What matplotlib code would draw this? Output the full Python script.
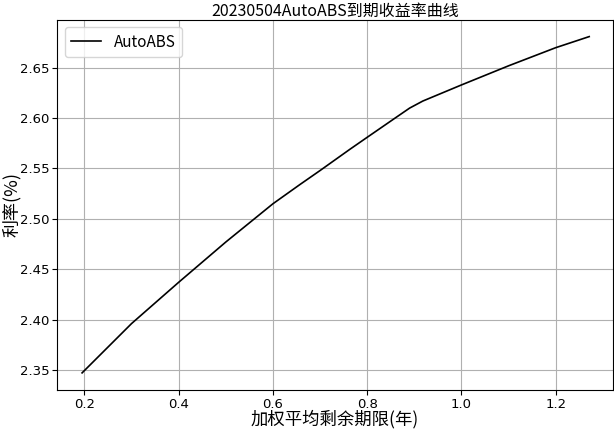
import matplotlib
matplotlib.use("Agg")
import matplotlib.pyplot as plt

plt.rcParams['font.family'] = ['Noto Sans CJK SC', 'DejaVu Sans']
plt.rcParams['axes.unicode_minus'] = False

# weighted average remaining term (years) vs yield (%)
term = [0.195, 0.3, 0.4, 0.5, 0.6, 0.657, 0.7, 0.763, 0.8, 0.862, 0.89, 0.918, 1.0, 1.1, 1.2, 1.271]
yld = [2.347, 2.396, 2.437, 2.477, 2.515, 2.534, 2.548, 2.569, 2.581, 2.601, 2.610, 2.617, 2.633, 2.652, 2.670, 2.681]

fig = plt.figure(figsize=(6.14, 4.30), dpi=100)
ax = fig.add_axes([0.093, 0.093, 0.905, 0.861])
ax.plot(term, yld, color='black', linewidth=1.2, label='AutoABS')
ax.set_xlim(0.142, 1.321)
ax.set_ylim(2.330, 2.6977)
ax.set_xticks([0.2, 0.4, 0.6, 0.8, 1.0, 1.2])
ax.set_yticks([2.35, 2.40, 2.45, 2.50, 2.55, 2.60, 2.65])
ax.grid(True, color='#b0b0b0', linewidth=0.8)
ax.tick_params(labelsize=9.5, pad=2)
for lab in ax.get_xticklabels() + ax.get_yticklabels():
    lab.set_family('DejaVu Sans')
ax.set_title('20230504AutoABS到期收益率曲线', fontsize=11.5, pad=1)
ax.set_xlabel('加权平均剩余期限(年)', fontsize=12.5, labelpad=-0.5)
ax.set_ylabel('利率(%)', fontsize=13, labelpad=-1)
ax.legend(loc='upper left', fontsize=11)

fig.savefig('out.png', dpi=100)
